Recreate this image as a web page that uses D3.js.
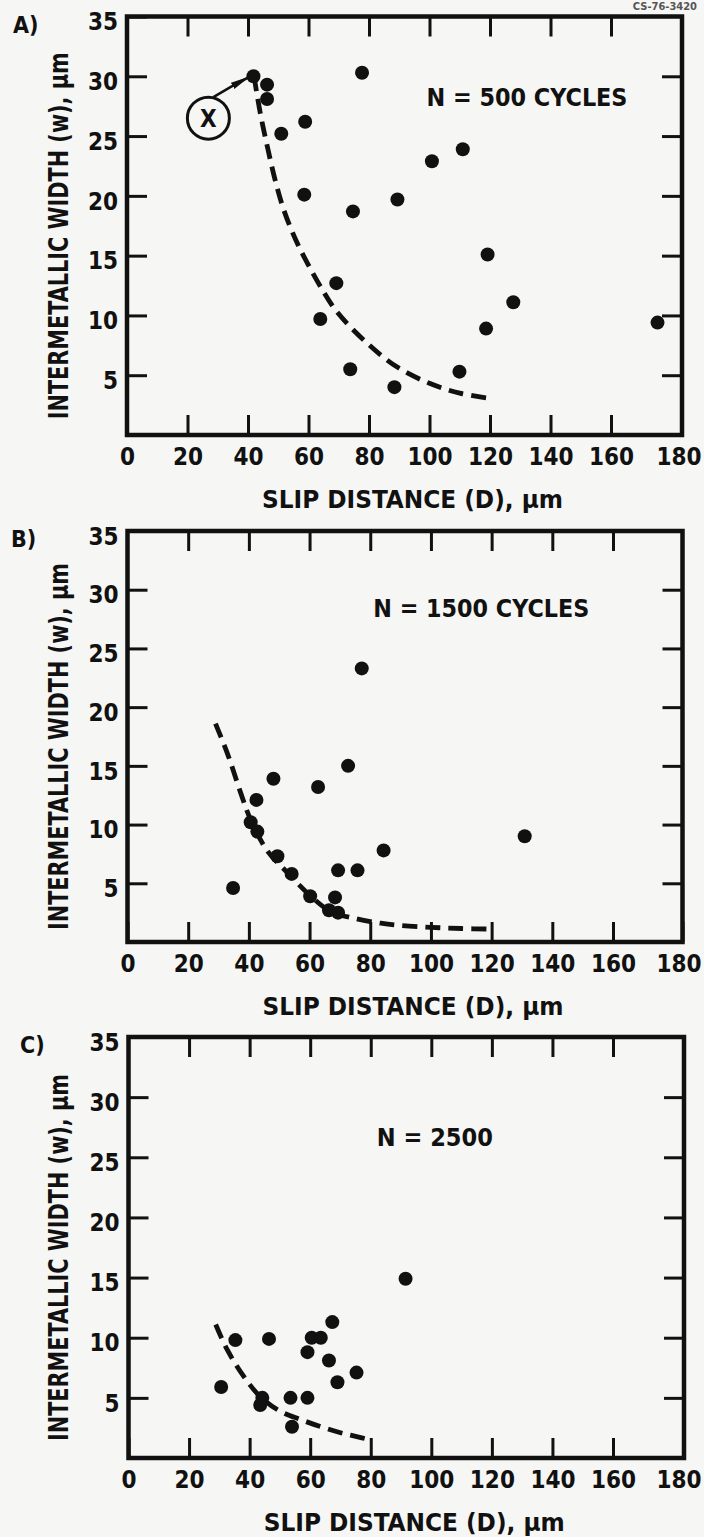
<!DOCTYPE html>
<html>
<head>
<meta charset="utf-8">
<script src="https://cdn.jsdelivr.net/npm/d3@7"></script>
<style>
  body { margin: 0; background: #f6f6f4; }
  svg text { font-family: "DejaVu Sans", sans-serif; font-stretch: condensed; font-weight: bold; fill: #111; }
</style>
</head>
<body>
<svg id="chart" width="704" height="1537"></svg>
<script>
// axis ticks
const xTicks = [0, 20, 40, 60, 80, 100, 120, 140, 160, 180];
const xInnerTicks = [20, 40, 60, 80, 100, 120, 140, 160];
const yTicks = [5, 10, 15, 20, 25, 30, 35];
const yInnerTicks = [5, 10, 15, 20, 25, 30];

const xTitle = "SLIP DISTANCE (D), \u03bcm";
const yTitle = "INTERMETALLIC WIDTH (w), \u03bcm";
const panelNames = ["A)", "B)", "C)"];
const cycleLabels = ["N = 500 CYCLES", "N = 1500 CYCLES", "N = 2500"];
const figureNo = "CS-76-3420";

// [slip distance D, intermetallic width w]
const pointsA = [
  [41.8, 30.0], [46.3, 29.3], [46.3, 28.1], [51.0, 25.2], [58.9, 26.2],
  [58.6, 20.1], [77.7, 30.3], [74.7, 18.7], [89.4, 19.7], [100.8, 22.9],
  [111.0, 23.9], [119.2, 15.1], [69.2, 12.7], [127.7, 11.1], [63.9, 9.7],
  [118.7, 8.9], [173.1, 9.4], [73.8, 5.5], [109.9, 5.3], [88.4, 4.0]
];
const pointsB = [
  [77.2, 23.3], [72.7, 15.0], [48.1, 13.9], [62.8, 13.2], [42.5, 12.1],
  [40.6, 10.2], [42.8, 9.4], [49.4, 7.3], [84.4, 7.8], [69.4, 6.1],
  [75.8, 6.1], [54.1, 5.8], [34.8, 4.6], [60.2, 3.9], [68.4, 3.8],
  [66.4, 2.7], [69.4, 2.5], [130.9, 9.0]
];
const pointsC = [
  [30.6, 5.9], [35.3, 9.8], [46.4, 9.9], [44.2, 5.0], [43.5, 4.4],
  [53.5, 5.0], [59.1, 5.0], [59.1, 8.8], [60.5, 10.0], [63.5, 10.0],
  [67.3, 11.3], [66.2, 8.1], [69.0, 6.3], [75.3, 7.1], [54.0, 2.6],
  [91.5, 14.9]
];

// dashed trend curves
const curveA = [
  [42, 30], [44, 27], [46.5, 24], [49, 21.3], [52, 18.7], [56, 16.2],
  [60, 14.2], [64, 12.4], [69.4, 10.3], [79.3, 7.7], [89.2, 5.7],
  [100.2, 4.3], [110, 3.5], [119, 3.1]
];
const curveB = [
  [29, 18.6], [33, 16], [37.3, 12.7], [40.6, 10.4], [46, 7.8], [52.7, 5.9],
  [60.4, 3.9], [67, 2.6], [75, 2.0], [83.5, 1.6], [90, 1.4], [100, 1.25], [110, 1.15], [120, 1.1]
];
const curveC = [
  [28.8, 11.1], [32.6, 9], [38, 6.8], [43.5, 5.1], [50, 3.9], [56.8, 3.2],
  [63.5, 2.6], [70, 2.1], [75, 1.8], [80, 1.5]
];

// callout "X" in panel A: circle centre and the point it marks
const calloutA = { text: "X", at: [26.9, 26.5], target: [41.8, 30.0] };

// layout (pixels) for each panel
const layout = [
  { l: 127, m: 611, r: 682, t: 16.5, b: 435, nameX: 13, labelAt: [99, 27.5], labelW: 201 },
  { l: 127.5, m: 613, r: 682.5, t: 531, b: 942, nameX: 11, labelAt: [81, 27.7], labelW: 216 },
  { l: 128.5, m: 613, r: 684, t: 1037, b: 1458, nameX: 20, labelAt: [82, 25.9], labelW: 116 }
];
const series = [
  { points: pointsA, curve: curveA },
  { points: pointsB, curve: curveB },
  { points: pointsC, curve: curveC }
];

const svg = d3.select("#chart");
const ink = "#111";
const W = +svg.attr("width");

svg.append("defs").append("marker")
  .attr("id", "head")
  .attr("markerUnits", "userSpaceOnUse")
  .attr("viewBox", "0 -4 20 8")
  .attr("refX", 18).attr("refY", 0)
  .attr("markerWidth", 20).attr("markerHeight", 8)
  .attr("orient", "auto")
  .append("path")
  .attr("d", "M0,-3.5L20,0L0,3.5Z")
  .attr("fill", ink);

// figure number, at the top right edge
svg.append("text")
  .attr("x", 697).attr("y", 10)
  .attr("text-anchor", "end")
  .attr("font-size", 11)
  .style("fill", "#555")
  .text(figureNo);

function styleAxis(g) {
  g.attr("font-family", null).attr("font-size", null);
  g.select(".domain").remove();
  g.selectAll(".tick line").attr("stroke", ink).attr("stroke-width", 3);
  g.selectAll(".tick text").attr("font-size", 24);
}

layout.forEach((p, i) => {
  const x = d3.scaleLinear().domain([0, 160, 180]).range([p.l, p.m, p.r]);
  const y = d3.scaleLinear().domain([0, 35]).range([p.b, p.t]);
  const g = svg.append("g");

  const bottom = g.append("g")
    .attr("transform", `translate(0,${p.b})`)
    .call(d3.axisBottom(x).tickValues(xTicks).tickSize(-20).tickPadding(13))
    .call(styleAxis);
  // keep the last label inside the page
  bottom.selectAll(".tick text")
    .filter(d => d === 180)
    .attr("text-anchor", "end")
    .attr("x", W - 3 - x(180));

  g.append("g")
    .attr("transform", `translate(0,${p.t})`)
    .call(d3.axisTop(x).tickValues(xInnerTicks).tickSize(-20).tickFormat(""))
    .call(styleAxis);
  g.append("g")
    .attr("transform", `translate(${p.l},0)`)
    .call(d3.axisLeft(y).tickValues(yTicks).tickSize(-20).tickPadding(9))
    .call(styleAxis)
    .selectAll(".tick text").attr("dy", "0.55em");
  g.append("g")
    .attr("transform", `translate(${p.r},0)`)
    .call(d3.axisRight(y).tickValues(yInnerTicks).tickSize(-20).tickFormat(""))
    .call(styleAxis);

  // frame
  g.append("rect")
    .attr("x", x(0)).attr("y", y(35))
    .attr("width", x(180) - x(0)).attr("height", y(0) - y(35))
    .attr("fill", "none").attr("stroke", ink).attr("stroke-width", 4.5);

  // dashed trend
  const line = d3.line()
    .x(d => x(d[0])).y(d => y(d[1]))
    .curve(d3.curveCatmullRom.alpha(0.5));
  g.append("path")
    .datum(series[i].curve)
    .attr("d", line)
    .attr("fill", "none").attr("stroke", ink)
    .attr("stroke-width", 4.8)
    .attr("stroke-dasharray", "15,8");

  // points
  g.selectAll("circle.pt")
    .data(series[i].points)
    .join("circle")
    .attr("class", "pt")
    .attr("cx", d => x(d[0])).attr("cy", d => y(d[1]))
    .attr("r", 7).attr("fill", ink);

  // panel name
  g.append("text")
    .attr("x", p.nameX).attr("y", p.t + 16)
    .attr("font-size", 23)
    .text(panelNames[i]);

  // cycles label
  g.append("text")
    .attr("x", x(p.labelAt[0])).attr("y", y(p.labelAt[1]))
    .attr("font-size", 25)
    .attr("textLength", p.labelW).attr("lengthAdjust", "spacingAndGlyphs")
    .text(cycleLabels[i]);

  // axis titles
  g.append("text")
    .attr("x", (p.l + p.r) / 2 + 8).attr("y", p.b + 73)
    .attr("text-anchor", "middle")
    .attr("font-size", 24)
    .attr("textLength", 301).attr("lengthAdjust", "spacingAndGlyphs")
    .text(xTitle);
  g.append("text")
    .attr("transform", `translate(68,${(p.t + p.b) / 2 + 10}) rotate(-90)`)
    .attr("text-anchor", "middle")
    .attr("font-size", 26)
    .attr("textLength", 367).attr("lengthAdjust", "spacingAndGlyphs")
    .text(yTitle);

  if (i === 0) {
    const cx = x(calloutA.at[0]), cy = y(calloutA.at[1]);
    const tx = x(calloutA.target[0]), ty = y(calloutA.target[1]);
    g.append("circle")
      .attr("cx", cx).attr("cy", cy).attr("r", 21)
      .attr("fill", "none").attr("stroke", ink).attr("stroke-width", 3);
    g.append("text")
      .attr("x", cx).attr("y", cy + 9)
      .attr("text-anchor", "middle")
      .attr("font-size", 24)
      .text(calloutA.text);
    g.append("path")
      .attr("d", `M${cx + 5},${cy - 21}L${cx + 22},${cy - 31}L${tx - 5},${ty + 1}`)
      .attr("fill", "none").attr("stroke", ink).attr("stroke-width", 2.5)
      .attr("marker-end", "url(#head)");
  }
});
</script>
</body>
</html>
